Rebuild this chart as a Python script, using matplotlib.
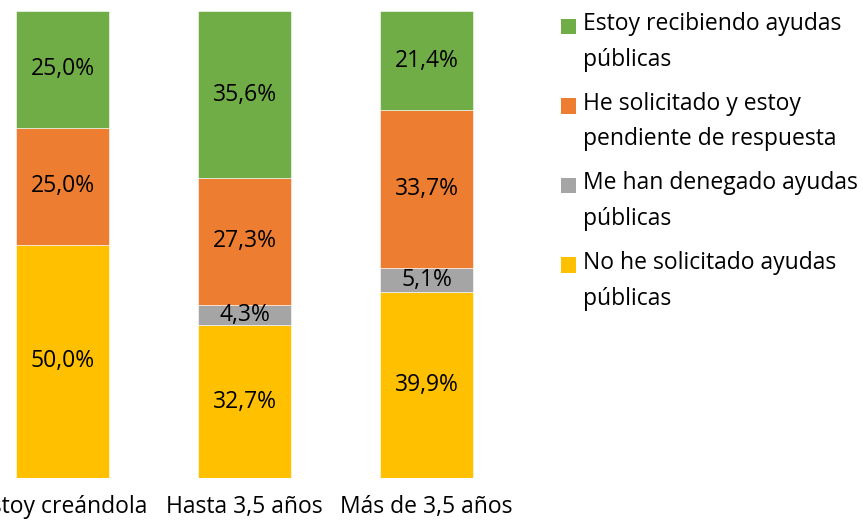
import matplotlib
matplotlib.use("Agg")
import matplotlib.pyplot as plt
from matplotlib.legend_handler import HandlerPatch
from matplotlib.patches import Rectangle
import numpy as np

plt.rcParams['font.family'] = ['Open Sans', 'DejaVu Sans']

categories = ["Estoy creándola", "Hasta 3,5 años", "Más de 3,5 años"]
series_names = ["No he solicitado ayudas\npúblicas",
                "Me han denegado ayudas\npúblicas",
                "He solicitado y estoy\npendiente de respuesta",
                "Estoy recibiendo ayudas\npúblicas"]
no_solicitado = [50.0, 32.7, 39.9]
denegado = [0.0, 4.3, 5.1]
pendiente = [25.0, 27.3, 33.7]
recibiendo = [25.0, 35.6, 21.4]
colors = ["#FFC000", "#A5A5A5", "#ED7D31", "#70AD47"]

FS = 16.5
SHIFT = 12  # lift legend squares up to the first text line

W, H = 863, 523
fig = plt.figure(figsize=(W / 100, H / 100), dpi=100)
# bars centred at 62.5, 244.5, 426.5 px; top 11 px, bottom 478 px
ax = fig.add_axes([-28.5 / W, (H - 478) / H, 546 / W, 467 / H])

x = np.arange(len(categories))
bottom = np.zeros(len(categories))
handles = []
for vals, col, name in zip([no_solicitado, denegado, pendiente, recibiendo], colors, series_names):
    vals = np.array(vals)
    bars = ax.bar(x, vals, 0.511, bottom=bottom, color=col, label=name,
                  edgecolor="white", linewidth=0.4)
    handles.append(bars.patches[0])
    for xi, v, b in zip(x, vals, bottom):
        if v > 0:
            ax.text(xi, b + v / 2, f"{v:.1f}%".replace(".", ","), ha="center", va="center",
                    fontsize=FS, color="black")
    bottom += vals

ax.set_xlim(-0.5, 2.5)
ax.set_ylim(0, 100)
ax.set_xticks(x)
ax.set_xticklabels(categories, fontsize=FS)
ax.tick_params(axis="x", length=0, pad=12)
ax.set_yticks([])
for s in ax.spines.values():
    s.set_visible(False)


def square(legend, orig_handle, xdescent, ydescent, width, height, fontsize):
    return Rectangle((-xdescent, -ydescent + SHIFT), width, height)


leg = ax.legend(handles[::-1], series_names[::-1], loc="upper left",
                bbox_to_anchor=(561 / W, 1 - 12 / H), bbox_transform=fig.transFigure,
                frameon=False, fontsize=FS, handlelength=0.66, handleheight=0.66,
                handletextpad=0.32, labelspacing=0.86, borderpad=0, borderaxespad=0,
                handler_map={Rectangle: HandlerPatch(patch_func=square)})
for t in leg.get_texts():
    t.set_linespacing(1.66)
for p in leg.get_patches():
    p.set_edgecolor("none")

fig.savefig("out.png", dpi=100)
